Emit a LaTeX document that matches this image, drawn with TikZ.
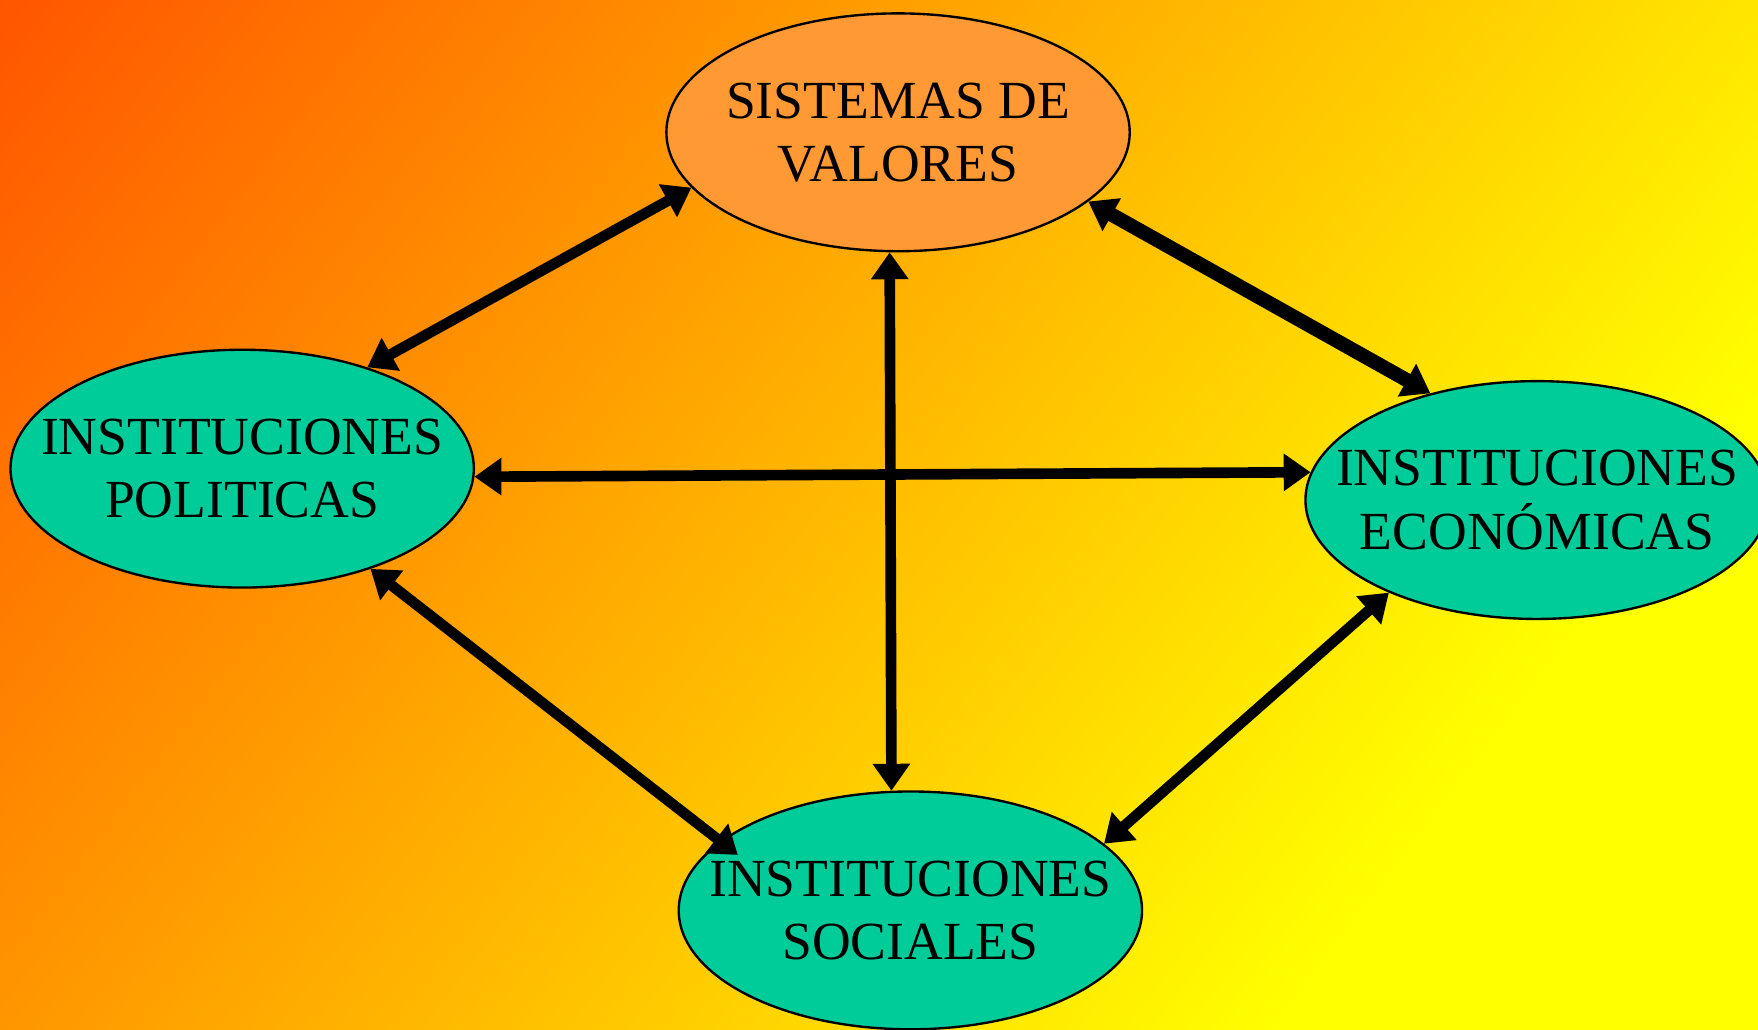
\documentclass[tikz,border=0pt]{standalone}
\usepackage{fontspec}
\setmainfont{Liberation Serif}
\usetikzlibrary{shapes,arrows.meta,positioning}
\definecolor{valfill}{RGB}{255,153,51}
\definecolor{instfill}{RGB}{0,204,153}
\definecolor{bgred}{RGB}{255,85,0}
\definecolor{bgyellow}{RGB}{255,255,0}
\pgfdeclarehorizontalshading{bgshade}{100bp}{color(0bp)=(bgred); color(14.9bp)=(bgred); color(71.8bp)=(bgyellow); color(100bp)=(bgyellow)}

\begin{document}
\begin{tikzpicture}[x=0.01cm,y=-0.01cm]
\tikzstyle{valores}=[ellipse, minimum width=4.13cm, minimum height=2.12cm, inner sep=0pt, draw=black, line width=0.6pt, fill=valfill]
\tikzstyle{inst}=[valores, fill=instfill]
\tikzstyle{txt}=[align=center, font=\fontsize{13.6}{16}\selectfont, inner sep=0pt]
\tikzstyle{link}=[{Triangle[length=2.4mm,width=3.2mm]}-{Triangle[length=2.4mm,width=3.2mm]}, line width=2.7pt]

\useasboundingbox (0,0) rectangle (1568,918.6);
\shade[shading=bgshade, shading angle=-37.4] (0,0) rectangle (1568,918.6);

\node[valores] (val) at (801,118) [label={[txt]center:SISTEMAS DE\\VALORES}]{};
\node[inst] (pol) at (216,418) [label={[txt]center:INSTITUCIONES\\POLITICAS}]{};
\node[inst] (eco) at (1371,446) [label={[txt]center:INSTITUCIONES\\ECONÓMICAS}]{};
\node[inst] (soc) at (812,812) [label={[txt]center:INSTITUCIONES\\SOCIALES}]{};

\path
	(pol.39) edge[link] (val.195)
	(val.-20.5) edge[link, line width=3.6pt] (eco.135)
	(val.266.7) edge[link] (soc.99)
	(pol.-2) edge[link] (eco.173)
	(pol.-38.6) edge[link, shorten >=-0.2cm] (soc.160.2)
	(soc.19.1) edge[link] (eco.212.9);

\end{tikzpicture}
\end{document}
